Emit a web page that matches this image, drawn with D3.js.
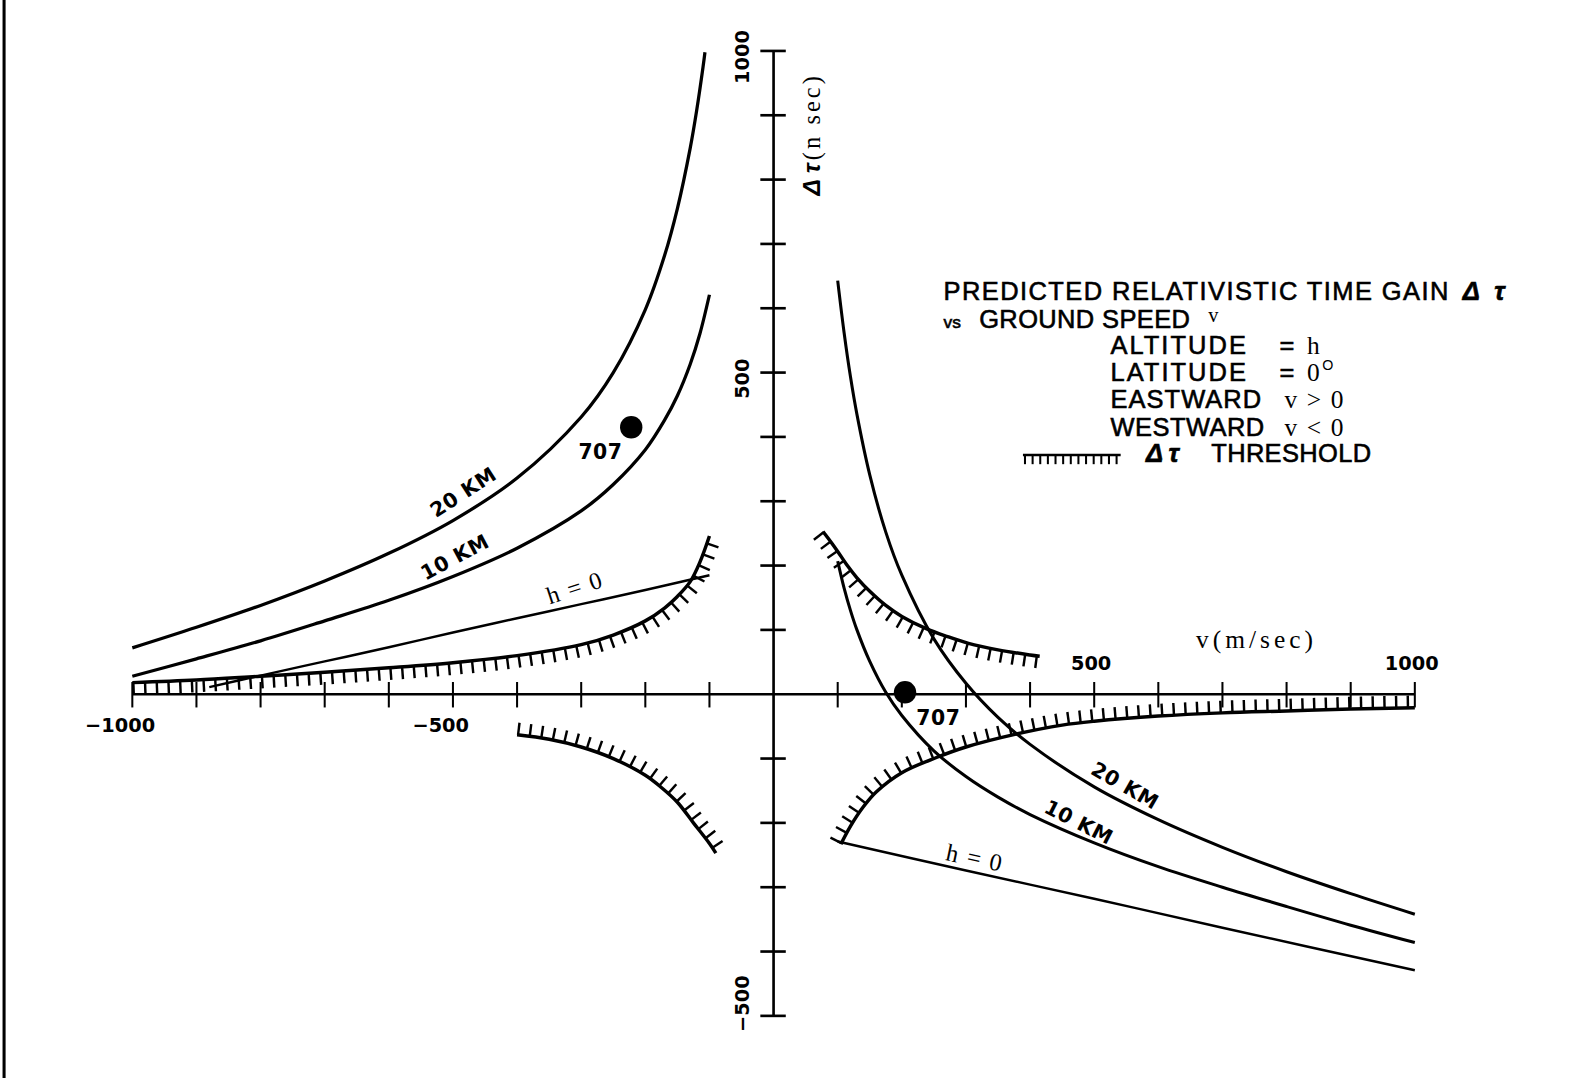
<!DOCTYPE html>
<html>
<head>
<meta charset="utf-8">
<script src="https://cdn.jsdelivr.net/npm/d3@7"></script>
<style>
  body { margin: 0; background: #fff; }
  svg { display: block; }
  .sans { font-family: "Liberation Sans", Arial, sans-serif; }
  .bold { font-family: "DejaVu Sans", "Liberation Sans", sans-serif; font-weight: bold; }
  .serif { font-family: "Liberation Serif", "DejaVu Serif", serif; }
</style>
</head>
<body>
<div id="chart"></div>
<script>
// speeds v (m/sec) and time gain dt (n sec)
const vLeft = [-1000, -900, -800, -700, -600, -500, -400, -300, -250, -200, -170, -150, -130, -120, -110, -107];
const km20Left = [72, 104, 138, 176, 219, 270, 336, 431, 500, 598, 682, 755, 849, 907, 975, 998];
const vLeft10 = [-1000, -900, -800, -700, -600, -500, -400, -300, -250, -200, -170, -150, -130, -115, -100];
const km10Left = [28, 55, 83, 114, 146, 183, 227, 285, 326, 380, 426, 464, 513, 560, 621];
const vLeft0 = [-880, -800, -700, -600, -500, -400, -300, -200, -100];
const h0Left = [11, 29, 51, 73, 96, 118, 140, 162, 185];

const vRight = [100, 110, 120, 130, 150, 175, 200, 250, 300, 350, 400, 500, 600, 700, 800, 900, 1000];
const km20Right = [643, 562, 493, 435, 341, 252, 185, 86, 17, -36, -78, -144, -195, -238, -276, -310, -342];
const km10Right = [207, 165, 130, 100, 51, 3, -33, -88, -128, -160, -187, -231, -268, -300, -330, -359, -386];
const vRight0 = [100, 300, 500, 700, 1000];
const h0Right = [-229, -274, -318, -363, -429];

// threshold curves
const thrUpLeftV = [-1000, -900, -800, -700, -600, -500, -400, -300, -250, -200, -170, -150, -130, -115, -100];
const thrUpLeft = [18, 22, 28, 34, 41, 49, 60, 77, 92, 114, 134, 152, 175, 205, 246];
const thrLowLeftV = [-400, -350, -300, -250, -200, -175, -150, -125, -100, -90];
const thrLowLeft = [-63, -70, -82, -100, -126, -145, -168, -200, -232, -247];
const thrUpRightV = [77, 90, 100, 115, 130, 150, 175, 200, 238, 270, 304, 350, 400, 415];
const thrUpRight = [253, 236, 222, 200, 181, 160, 138, 121, 102, 90, 79, 69, 61, 59];
const thrLowRightV = [105, 120, 140, 160, 200, 255, 300, 378, 450, 500, 600, 700, 800, 900, 1000];
const thrLowRight = [-233, -205, -175, -152, -122, -98, -82, -62, -48, -42, -34, -29, -26, -23, -21];

// measured 707 points
const points707 = [[-222, 415], [205, 3]];

const xTicks = [-1000, -900, -800, -700, -600, -500, -400, -300, -200, -100, 100, 200, 300, 400, 500, 600, 700, 800, 900, 1000];
const yTicks = [-500, -400, -300, -200, -100, 100, 200, 300, 400, 500, 600, 700, 800, 900, 1000];
const xTickLabels = [-1000, -500, 500, 1000];
const yTickLabels = [-500, 500, 1000];

const w = 1596, h = 1078;

const svg = d3.select("#chart").append("svg")
    .attr("width", w)
    .attr("height", h)
    .attr("viewBox", "0 0 1568 1059");

const x = d3.scaleLinear().domain([-1000, 1000]).range([130, 1390]);
const y = d3.scaleLinear().domain([-500, 1000]).range([998, 50]);

// scan border on the left edge
svg.append("line")
    .attr("x1", 4).attr("x2", 4).attr("y1", 0).attr("y2", 1059)
    .attr("stroke", "#000").attr("stroke-width", 3);

// axes
svg.append("line")
    .attr("x1", x(-1000)).attr("x2", x(1000)).attr("y1", y(0)).attr("y2", y(0))
    .attr("stroke", "#000").attr("stroke-width", 2.6);
svg.append("line")
    .attr("x1", x(0)).attr("x2", x(0)).attr("y1", y(1000)).attr("y2", y(-500))
    .attr("stroke", "#000").attr("stroke-width", 2.6);

svg.selectAll(".xtick").data(xTicks).enter().append("line")
    .attr("class", "xtick")
    .attr("x1", d => x(d)).attr("x2", d => x(d))
    .attr("y1", y(0) - 12).attr("y2", y(0) + 13)
    .attr("stroke", "#000").attr("stroke-width", 2);

svg.selectAll(".ytick").data(yTicks).enter().append("line")
    .attr("class", "ytick")
    .attr("x1", x(0) - 13).attr("x2", x(0) + 12)
    .attr("y1", d => y(d)).attr("y2", d => y(d))
    .attr("stroke", "#000").attr("stroke-width", 2.6);

// x tick labels: negatives below the axis, positives above
svg.selectAll(".xlab").data(xTickLabels).enter().append("text")
    .attr("class", "bold")
    .attr("x", d => d < 0 ? x(d) - 12 : x(d) - 3)
    .attr("y", d => d < 0 ? y(0) + 37 : y(0) - 24)
    .attr("text-anchor", "middle")
    .attr("font-size", 19)
    .text(d => d < 0 ? "\u2212" + Math.abs(d) : d);

svg.selectAll(".ylab").data(yTickLabels).enter().append("text")
    .attr("class", "bold")
    .attr("transform", d => `translate(${x(0) - 24},${d < 0 ? y(d) - 12 : y(d) + 6}) rotate(-90)`)
    .attr("text-anchor", "middle")
    .attr("font-size", 19)
    .text(d => d < 0 ? "\u2212" + Math.abs(d) : d);

// axis titles
svg.append("text")
    .attr("class", "serif")
    .attr("x", 1175).attr("y", 637)
    .attr("font-size", 25)
    .attr("textLength", 115)
    .text("v(m/sec)");

const yTitle = svg.append("text")
    .attr("transform", "translate(806,192) rotate(-90)");
yTitle.append("tspan").attr("class", "sans")
    .attr("font-size", 24).attr("font-weight", "bold").attr("font-style", "italic")
    .text("\u0394 \u03c4");
yTitle.append("tspan").attr("class", "serif")
    .attr("dx", 3)
    .attr("font-size", 24).attr("letter-spacing", 3)
    .text("(n sec)");

// curves
const line = d3.line()
    .x(d => x(d[0]))
    .y(d => y(d[1]))
    .curve(d3.curveCatmullRom.alpha(0.5));

const zip = (a, b) => a.map((v, i) => [v, b[i]]);

const curves = [
    { v: vLeft, dt: km20Left, sw: 3.2 },
    { v: vLeft10, dt: km10Left, sw: 3.2 },
    { v: vLeft0, dt: h0Left, sw: 2.4 },
    { v: vRight, dt: km20Right, sw: 3 },
    { v: vRight, dt: km10Right, sw: 3 },
    { v: vRight0, dt: h0Right, sw: 2.4 }
];

svg.selectAll(".curve").data(curves).enter().append("path")
    .attr("class", "curve")
    .attr("d", d => line(zip(d.v, d.dt)))
    .attr("fill", "none")
    .attr("stroke", "#000")
    .attr("stroke-width", d => d.sw);

// threshold curves with hatching toward the v axis
const thresholds = [
    { v: thrUpLeftV, dt: thrUpLeft, side: 1 },
    { v: thrLowLeftV, dt: thrLowLeft, side: -1 },
    { v: thrUpRightV, dt: thrUpRight, side: 1 },
    { v: thrLowRightV, dt: thrLowRight, side: -1 }
];

thresholds.forEach(t => {
    const path = svg.append("path")
        .attr("d", line(zip(t.v, t.dt)))
        .attr("fill", "none")
        .attr("stroke", "#000")
        .attr("stroke-width", 3.4);
    const node = path.node();
    const len = node.getTotalLength();
    const step = 11.5, tick = 12;
    for (let l = 1; l <= len; l += step) {
        const p0 = node.getPointAtLength(Math.max(0, l - 1));
        const p1 = node.getPointAtLength(Math.min(len, l + 1));
        const p = node.getPointAtLength(l);
        let dx = p1.x - p0.x, dy = p1.y - p0.y;
        const n = Math.hypot(dx, dy) || 1;
        let nx = -dy / n, ny = dx / n;
        if (ny * t.side < 0) { nx = -nx; ny = -ny; }
        svg.append("line")
            .attr("x1", p.x).attr("y1", p.y)
            .attr("x2", p.x + nx * tick).attr("y2", p.y + ny * tick)
            .attr("stroke", "#000").attr("stroke-width", 2.4);
    }
});

// 707 points
svg.selectAll(".dot").data(points707).enter().append("circle")
    .attr("cx", d => x(d[0])).attr("cy", d => y(d[1]))
    .attr("r", 11).attr("fill", "#000");

// curve labels
const labels = [
    { t: "20 KM", v: -484, dt: 314, r: -33, f: "bold" },
    { t: "10 KM", v: -497, dt: 213, r: -28, f: "bold" },
    { t: "707", v: -270, dt: 377, r: 0, f: "bold" },
    { t: "h = 0", v: -310, dt: 166, r: -18, f: "serif" },
    { t: "20 KM", v: 548, dt: -142, r: 30, f: "bold" },
    { t: "10 KM", v: 476, dt: -199, r: 27, f: "bold" },
    { t: "707", v: 257, dt: -37, r: 0, f: "bold" },
    { t: "h = 0", v: 314, dt: -254, r: 12, f: "serif" }
];

svg.selectAll(".clab").data(labels).enter().append("text")
    .attr("class", d => d.f)
    .attr("transform", d => `translate(${x(d.v)},${y(d.dt)}) rotate(${d.r})`)
    .attr("text-anchor", "middle")
    .attr("dominant-baseline", "central")
    .attr("font-size", d => d.f === "serif" ? 24 : 20)
    .attr("letter-spacing", d => d.f === "serif" ? 1.5 : 0.5)
    .text(d => d.t);

// legend block
const g = svg.append("g").attr("class", "sans").attr("font-size", 25)
    .attr("stroke", "#000").attr("stroke-width", 0.6);
g.append("text").attr("x", 927).attr("y", 295).attr("textLength", 496).text("PREDICTED RELATIVISTIC TIME GAIN");
g.append("text").attr("x", 1437).attr("y", 295).attr("font-weight", "bold").attr("font-style", "italic").text("\u0394");
g.append("text").attr("x", 1468).attr("y", 295).attr("font-weight", "bold").attr("font-style", "italic").text("\u03c4");

g.append("text").attr("x", 927).attr("y", 322).attr("font-size", 17).text("vs");
g.append("text").attr("x", 962).attr("y", 322).attr("textLength", 207).text("GROUND SPEED");
g.append("text").attr("class", "serif").attr("x", 1187).attr("y", 316)
    .attr("font-size", 20).attr("stroke-width", 0).text("v");

const rows = [
    { a: "ALTITUDE", aw: 133, y: 348 },
    { a: "LATITUDE", aw: 133, y: 374 },
    { a: "EASTWARD", aw: 148, y: 401 },
    { a: "WESTWARD", aw: 151, y: 428 }
];
g.selectAll(".row").data(rows).enter().append("text")
    .attr("x", 1091).attr("y", d => d.y)
    .attr("textLength", d => d.aw)
    .text(d => d.a);

g.append("text").attr("x", 1257).attr("y", 348).text("=");
g.append("text").attr("class", "serif").attr("x", 1284).attr("y", 348).attr("stroke-width", 0).text("h");
g.append("text").attr("x", 1257).attr("y", 374).text("=");
g.append("text").attr("class", "serif").attr("x", 1284).attr("y", 374).attr("stroke-width", 0).text("0");
g.append("text").attr("x", 1299).attr("y", 363).attr("font-size", 14).attr("stroke-width", 0).text("O");
g.append("text").attr("class", "serif").attr("x", 1262).attr("y", 401).attr("stroke-width", 0)
    .attr("textLength", 58).text("v > 0");
g.append("text").attr("class", "serif").attr("x", 1262).attr("y", 428).attr("stroke-width", 0)
    .attr("textLength", 58).text("v < 0");

// threshold legend sample
g.append("line").attr("x1", 1005).attr("x2", 1101).attr("y1", 447).attr("y2", 447)
    .attr("stroke", "#000").attr("stroke-width", 2.5);
for (let xx = 1007; xx <= 1100; xx += 7.5) {
    g.append("line").attr("x1", xx).attr("x2", xx).attr("y1", 447).attr("y2", 456)
        .attr("stroke", "#000").attr("stroke-width", 2);
}
g.append("text").attr("x", 1126).attr("y", 454).attr("font-weight", "bold").attr("font-style", "italic").text("\u0394");
g.append("text").attr("x", 1148).attr("y", 454).attr("font-weight", "bold").attr("font-style", "italic").text("\u03c4");
g.append("text").attr("x", 1190).attr("y", 454).attr("textLength", 157).text("THRESHOLD");
</script>
</body>
</html>
